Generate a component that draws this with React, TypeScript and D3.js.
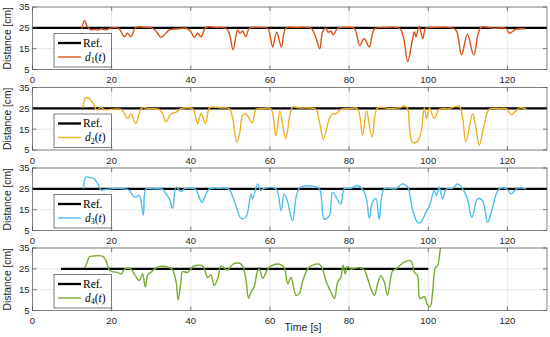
import React from "react";
import * as d3 from "d3";

// ---------- data ----------
const xTicks = [0, 20, 40, 60, 80, 100, 120];
const yTicks = [5, 15, 25, 35];
const refValue = 25;
const refSpans = [[0, 130], [0, 130], [0, 130], [7.2, 100]];
const seriesLabels = ["1", "2", "3", "4"];
const seriesColors = ["#D95319", "#EDB120", "#4DBEEE", "#77AC30"];

const t1 = [12.5, 13.1, 13.7, 14.8, 15.6, 16.5, 17.3, 18.6, 20.3, 21.9, 23.2, 24.0, 24.9, 26.1, 28.3, 30.4, 31.6, 32.5, 33.7, 34.6, 36.7, 38.8, 40.0, 40.9, 41.7, 42.6, 43.8, 46.4, 48.9, 49.7, 50.7, 51.8, 52.4, 53.1, 53.9, 54.8, 57.3, 59.4, 60.0, 60.7, 61.7, 62.9, 64.0, 66.6, 70.4, 71.5, 72.6, 73.3, 74.1, 74.7, 75.4, 76.0, 77.1, 79.2, 81.3, 82.7, 83.8, 85.1, 86.4, 89.3, 92.7, 93.7, 94.8, 95.9, 96.5, 96.9, 97.7, 98.6, 99.4, 101.9, 105.3, 107.0, 108.4, 109.9, 111.5, 113.3, 116.3, 119.6, 120.5, 122.1, 124.7];
const d1 = [24.5, 28.6, 26.1, 24.0, 24.3, 23.9, 24.5, 24.0, 25.2, 24.5, 20.7, 22.4, 20.7, 25.2, 25.3, 24.8, 22.4, 20.4, 22.4, 24.0, 24.5, 24.8, 23.2, 20.4, 22.4, 20.7, 25.2, 25.2, 24.8, 22.4, 14.5, 24.0, 22.4, 23.5, 20.7, 24.8, 25.2, 24.8, 21.6, 15.8, 22.9, 15.8, 24.8, 25.2, 24.8, 20.7, 15.0, 23.2, 24.8, 22.9, 23.5, 21.6, 24.8, 25.2, 24.8, 16.6, 19.9, 15.8, 24.5, 25.2, 24.8, 20.7, 8.8, 18.3, 23.2, 20.7, 25.7, 19.9, 24.8, 25.2, 25.2, 24.0, 12.0, 21.9, 12.0, 25.2, 24.8, 24.8, 22.4, 24.3, 24.5];

const t2 = [12.7, 13.5, 14.4, 15.6, 16.0, 16.7, 17.3, 18.1, 19.8, 22.4, 23.2, 24.0, 24.9, 26.1, 27.6, 29.5, 32.0, 32.9, 33.7, 35.0, 36.3, 37.5, 40.5, 41.1, 41.7, 42.6, 43.7, 44.7, 45.9, 47.6, 49.7, 50.6, 51.6, 52.4, 53.1, 53.9, 55.5, 56.5, 58.1, 60.2, 61.5, 62.5, 64.0, 65.7, 67.4, 69.9, 71.6, 72.5, 73.5, 75.0, 75.8, 76.7, 77.9, 80.0, 82.1, 83.4, 84.4, 85.8, 87.2, 90.1, 92.7, 93.9, 94.8, 95.2, 96.0, 97.3, 98.2, 99.0, 99.6, 100.3, 101.5, 102.8, 105.3, 107.8, 108.7, 109.5, 111.2, 112.0, 112.9, 114.1, 115.4, 118.0, 119.8, 120.9, 123.0, 124.7];
const d2 = [25.2, 30.1, 29.6, 26.4, 24.5, 24.5, 25.6, 24.4, 24.5, 24.5, 22.4, 20.1, 22.4, 17.7, 25.2, 24.8, 24.5, 22.4, 18.5, 22.4, 23.2, 24.8, 24.8, 21.7, 17.7, 22.4, 17.7, 25.2, 25.6, 25.2, 24.8, 20.1, 8.6, 13.7, 21.7, 22.4, 18.1, 24.5, 24.8, 24.8, 11.8, 23.6, 10.5, 25.6, 25.2, 25.2, 24.5, 18.5, 10.2, 20.1, 22.4, 22.4, 24.5, 24.8, 24.8, 12.1, 23.6, 11.3, 25.2, 24.8, 25.2, 26.1, 24.8, 16.9, 8.6, 9.2, 13.7, 25.2, 20.1, 25.2, 20.1, 24.5, 24.8, 26.1, 20.1, 8.9, 22.4, 16.1, 7.3, 16.9, 24.5, 24.8, 24.8, 22.0, 25.2, 24.8];

const t3 = [12.9, 13.5, 14.8, 15.6, 16.5, 17.3, 18.4, 19.8, 21.5, 23.2, 24.5, 25.3, 26.1, 27.0, 28.0, 28.7, 30.4, 32.9, 33.7, 34.6, 35.4, 36.3, 37.5, 38.4, 40.0, 41.3, 42.1, 42.8, 43.4, 44.7, 47.2, 48.9, 49.7, 51.4, 52.7, 53.9, 55.2, 55.6, 56.9, 57.6, 58.6, 61.5, 62.8, 63.6, 64.5, 65.7, 67.4, 70.8, 72.5, 73.7, 75.0, 75.8, 76.7, 77.9, 78.8, 80.5, 82.1, 83.4, 84.3, 85.1, 85.9, 86.8, 87.6, 88.9, 91.8, 93.5, 94.8, 96.0, 97.3, 98.1, 99.4, 100.3, 101.5, 102.1, 102.8, 103.6, 104.6, 106.2, 107.4, 108.7, 109.9, 111.0, 112.5, 113.7, 115.0, 115.8, 117.9, 119.8, 120.9, 122.6, 124.7];
const d3v = [25.0, 30.6, 30.3, 29.8, 27.4, 24.5, 24.7, 25.0, 25.3, 25.0, 24.2, 21.8, 21.0, 21.8, 12.4, 25.0, 25.0, 24.7, 22.6, 20.2, 15.6, 25.8, 23.7, 25.0, 25.3, 24.7, 21.0, 18.5, 20.5, 25.0, 25.3, 25.3, 24.7, 16.9, 10.8, 11.3, 22.6, 20.2, 27.4, 24.2, 25.3, 25.0, 14.5, 22.6, 18.5, 9.7, 25.3, 26.3, 25.0, 10.5, 12.1, 23.4, 21.0, 17.7, 25.0, 25.3, 26.6, 24.7, 21.0, 10.8, 18.5, 20.2, 10.5, 25.0, 25.0, 27.4, 25.8, 15.3, 8.9, 8.9, 13.7, 16.9, 24.2, 21.8, 25.8, 20.2, 25.0, 25.3, 27.4, 25.0, 20.2, 11.3, 20.2, 19.4, 8.9, 12.9, 25.0, 25.0, 22.6, 25.3, 25.0];

const t4 = [13.1, 13.5, 14.4, 15.2, 17.7, 18.6, 19.4, 20.3, 21.5, 22.4, 23.2, 24.0, 24.9, 25.7, 27.0, 27.8, 28.5, 29.1, 29.9, 30.8, 32.0, 34.6, 35.4, 36.3, 36.8, 37.5, 37.9, 39.2, 40.5, 41.7, 43.0, 44.3, 45.1, 45.9, 46.8, 47.6, 48.5, 49.3, 50.6, 52.3, 53.1, 53.9, 54.6, 55.2, 56.0, 56.9, 57.3, 58.2, 59.2, 60.3, 62.4, 63.6, 64.5, 65.3, 66.6, 67.4, 68.3, 69.5, 70.4, 72.5, 73.3, 74.1, 75.4, 76.3, 77.1, 77.9, 78.5, 79.0, 79.6, 80.5, 81.3, 82.6, 83.8, 84.7, 85.5, 86.4, 87.2, 88.0, 88.9, 89.7, 90.6, 91.0, 91.8, 92.7, 94.0, 95.6, 96.0, 96.5, 97.3, 97.9, 99.0, 99.8, 100.5, 101.1, 101.8, 102.4, 102.9, 103.6];
const d4 = [25.6, 26.4, 30.8, 31.1, 31.1, 28.8, 24.5, 23.6, 23.3, 22.5, 24.8, 25.3, 24.8, 22.5, 19.4, 22.5, 16.3, 22.0, 23.3, 24.8, 26.1, 25.6, 24.5, 18.6, 10.0, 18.6, 23.6, 23.3, 26.1, 26.7, 26.4, 20.9, 22.0, 17.0, 20.2, 26.4, 25.2, 24.5, 27.2, 27.7, 26.4, 20.2, 10.8, 13.9, 16.3, 24.1, 24.8, 20.5, 24.1, 26.4, 27.2, 25.6, 17.8, 20.9, 12.3, 13.1, 19.4, 24.8, 26.4, 27.2, 24.8, 19.4, 13.9, 10.8, 18.6, 20.9, 26.7, 22.5, 26.1, 24.8, 25.2, 25.6, 24.5, 20.2, 15.5, 12.3, 17.8, 21.7, 18.6, 12.3, 21.7, 24.1, 24.8, 26.4, 28.3, 28.8, 27.2, 23.3, 21.7, 10.8, 11.6, 7.7, 6.9, 13.9, 25.6, 26.7, 32.7, 40.5];

const seriesT = [t1, t2, t3, t4];
const seriesV = [d1, d2, d3v, d4];

// ---------- layout ----------
const W = 550;
const H = 337;
const LEFT = 32.5;
const RIGHT = 547;
const TOPS = [7, 87.5, 168, 248];
const PH = 62.5;
const AXIS = "#262626";
const FONT = "'Liberation Sans', Arial, sans-serif";
const SERIF = "'Liberation Serif', 'Times New Roman', serif";

function Panel({ i }: { i: number }) {
  const top = TOPS[i];
  const x = d3.scaleLinear().domain([0, 130]).range([LEFT, RIGHT]);
  const y = d3.scaleLinear().domain([5, 35]).range([top + PH, top]);
  const line = d3
    .line<[number, number]>()
    .x((d) => x(d[0]))
    .y((d) => y(d[1]))
    .curve(d3.curveCatmullRom.alpha(0.5));
  const pts: [number, number][] = seriesT[i].map((t, k) => [t, seriesV[i][k]]);
  const refPts: [number, number][] = refSpans[i].map((t) => [t, refValue]);
  const refLine = d3.line<[number, number]>().x((d) => x(d[0])).y((d) => y(d[1]));
  const clipId = `clip${i}`;
  const lx = 54;
  const ly = top + 26.5;
  const lw = 57.5;
  const lh = 33.5;
  return (
    <g>
      <defs>
        <clipPath id={clipId}>
          <rect x={LEFT} y={top} width={RIGHT - LEFT} height={PH} />
        </clipPath>
      </defs>
      <rect x={LEFT} y={top} width={RIGHT - LEFT} height={PH} fill="#fff" />
      {xTicks.map((t) => (
        <line key={"gx" + t} x1={x(t)} x2={x(t)} y1={top} y2={top + PH} stroke="#e3e3e3" strokeWidth={0.8} />
      ))}
      {yTicks.map((v) => (
        <line key={"gy" + v} x1={LEFT} x2={RIGHT} y1={y(v)} y2={y(v)} stroke="#e3e3e3" strokeWidth={0.8} />
      ))}
      <g clipPath={`url(#${clipId})`}>
        <path d={refLine(refPts) || ""} fill="none" stroke="#000" strokeWidth={2.3} />
        <path d={line(pts) || ""} fill="none" stroke={seriesColors[i]} strokeWidth={1.4} strokeLinejoin="round" />
      </g>
      {xTicks.map((t) => (
        <g key={"tx" + t}>
          <line x1={x(t)} x2={x(t)} y1={top + PH} y2={top + PH - 4} stroke={AXIS} strokeWidth={0.6} />
          <line x1={x(t)} x2={x(t)} y1={top} y2={top + 4} stroke={AXIS} strokeWidth={0.6} />
          <text x={x(t)} y={top + PH + 13.5} textAnchor="middle" fontFamily={FONT} fontSize={9.5} fill={AXIS}>
            {t}
          </text>
        </g>
      ))}
      {yTicks.map((v) => (
        <g key={"ty" + v}>
          <line x1={LEFT} x2={LEFT + 4} y1={y(v)} y2={y(v)} stroke={AXIS} strokeWidth={0.6} />
          <line x1={RIGHT} x2={RIGHT - 4} y1={y(v)} y2={y(v)} stroke={AXIS} strokeWidth={0.6} />
          <text x={LEFT - 3} y={y(v) + 3.4} textAnchor="end" fontFamily={FONT} fontSize={9.5} fill={AXIS}>
            {v}
          </text>
        </g>
      ))}
      <rect x={LEFT} y={top} width={RIGHT - LEFT} height={PH} fill="none" stroke="#555" strokeWidth={0.7} />
      <text
        transform={`translate(${11},${top + PH / 2}) rotate(-90)`}
        textAnchor="middle"
        fontFamily={FONT}
        fontSize={10.3}
        fill={AXIS}
      >
        Distance [cm]
      </text>
      <g>
        <rect x={lx} y={ly} width={lw} height={lh} fill="#fff" stroke="#444" strokeWidth={0.7} />
        <line x1={lx + 4} x2={lx + 27} y1={ly + 9.5} y2={ly + 9.5} stroke="#000" strokeWidth={2.3} />
        <text x={lx + 29} y={ly + 13.3} fontFamily={SERIF} fontSize={11.5} fill="#000">
          Ref.
        </text>
        <line x1={lx + 4} x2={lx + 27} y1={ly + 23.5} y2={ly + 23.5} stroke={seriesColors[i]} strokeWidth={1.4} />
        <text x={lx + 31} y={ly + 27.3} fontFamily={SERIF} fontSize={11.5} fill="#000">
          <tspan fontStyle="italic">d</tspan>
          <tspan fontSize={8} dy={2.5}>{seriesLabels[i]}</tspan>
          <tspan dy={-2.5}>(</tspan>
          <tspan fontStyle="italic">t</tspan>
          <tspan>)</tspan>
        </text>
      </g>
    </g>
  );
}

export default function App() {
  return (
    <svg width={W} height={H} style={{ position: "absolute", left: 0, top: 0, background: "#fff" }}>
      <rect x={0} y={0} width={W} height={H} fill="#fff" />
      {[0, 1, 2, 3].map((i) => (
        <Panel key={i} i={i} />
      ))}
      <text x={303} y={331} textAnchor="middle" fontFamily={FONT} fontSize={10.5} fill={AXIS}>
        Time [s]
      </text>
    </svg>
  );
}
